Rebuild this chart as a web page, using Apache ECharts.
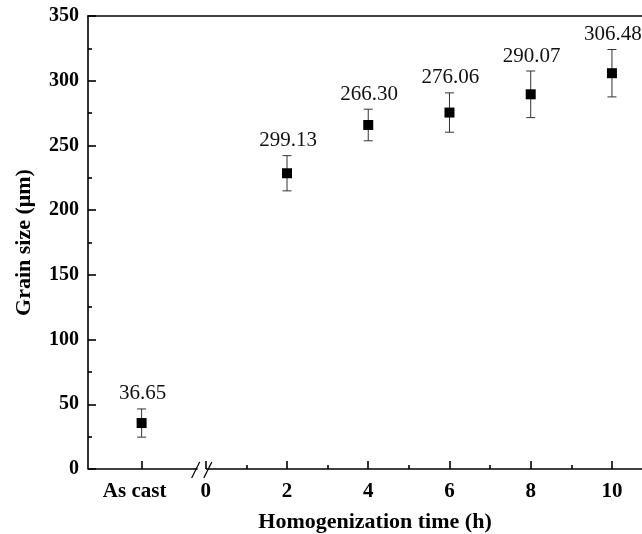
<!DOCTYPE html>
<html>
<head>
<meta charset="utf-8">
<script src="https://cdn.jsdelivr.net/npm/echarts@6/dist/echarts.min.js"></script>
<style>
html,body{margin:0;padding:0;background:#fff;}
#chart{width:642px;height:534px;}
</style>
</head>
<body>
<div id="chart"></div>
<script>
// ---- data ----
const sampleTimes = ['As cast', 2, 4, 6, 8, 10];
const grainSize = [35.5, 228.5, 265.8, 275.4, 289.5, 305.8];
const errorBars = [10.9, 13.6, 12.2, 15.2, 18.0, 18.3];
const labelTexts = ['36.65', '299.13', '266.30', '276.06', '290.07', '306.48'];
const xMajorTicks = [0, 2, 4, 6, 8, 10];
const xMinorTicks = [1, 3, 5, 7, 9];
const yTicks = [0, 50, 100, 150, 200, 250, 300, 350];

// axis placement of the "As cast" category and the axis break (axis units)
const AS_CAST_X = -1.58;
const X_MIN = -2.9, X_MAX = 10.74;
const BREAK_A = -0.25, BREAK_B = 0.05;

const FONT = "'Liberation Serif', 'Times New Roman', serif";
const toX = t => (t === 'As cast' ? AS_CAST_X : t);

const points = sampleTimes.map((t, i) => [toX(t), grainSize[i], errorBars[i], labelTexts[i]]);

const chart = echarts.init(document.getElementById('chart'));
const axisLineStyle = { color: '#000', width: 1.6 };
const tickFont = { color: '#000', fontFamily: FONT, fontWeight: 'bold', fontSize: 21 };

chart.setOption({
  animation: false,
  backgroundColor: '#fff',
  grid: { left: 88, top: 16, right: 0, bottom: 65, containLabel: false, outerBoundsMode: 'none' },
  xAxis: [
    {
      type: 'value', min: X_MIN, max: X_MAX, position: 'bottom',
      axisLine: { show: false, onZero: false },
      splitLine: { show: false },
      axisTick: { show: true, inside: true, length: 8, lineStyle: axisLineStyle,
                  customValues: [AS_CAST_X].concat(xMajorTicks) },
      axisLabel: {
        customValues: [AS_CAST_X].concat(xMajorTicks),
        formatter: v => (Math.abs(v - AS_CAST_X) < 1e-6 ? '{ac|As cast}' : '{n|' + Math.round(v) + '}'),
        rich: {
          ac: Object.assign({ padding: [0, 14, 0, 0] }, tickFont),
          n: Object.assign({}, tickFont)
        },
        color: '#000', fontFamily: FONT, fontWeight: 'bold', fontSize: 21, margin: 12
      },
      name: 'Homogenization time (h)', nameLocation: 'middle', nameGap: 42,
      nameTextStyle: { color: '#000', fontFamily: FONT, fontWeight: 'bold', fontSize: 22,
                       padding: [0, 0, 0, 20] }
    },
    {
      type: 'value', min: X_MIN, max: X_MAX, position: 'bottom',
      axisLine: { show: false, onZero: false }, splitLine: { show: false },
      axisTick: { show: true, inside: true, length: 4, lineStyle: axisLineStyle, customValues: xMinorTicks },
      axisLabel: { show: false }
    },
    {
      type: 'value', min: X_MIN, max: X_MAX, position: 'top',
      axisLine: { show: true, onZero: false, lineStyle: axisLineStyle },
      axisTick: { show: false }, axisLabel: { show: false }, splitLine: { show: false }
    }
  ],
  yAxis: {
    type: 'value', min: 0, max: 350, interval: 50, position: 'left',
    axisLine: { show: true, onZero: false, lineStyle: axisLineStyle },
    axisTick: { show: true, inside: true, length: 8, lineStyle: axisLineStyle },
    minorTick: { show: true, splitNumber: 2, length: 4, lineStyle: axisLineStyle },
    splitLine: { show: false },
    axisLabel: {
      customValues: yTicks,
      color: '#000', fontFamily: FONT, fontWeight: 'bold', fontSize: 20, margin: 9
    },
    name: 'Grain size (\u03bcm)', nameLocation: 'middle', nameGap: 53,
    nameTextStyle: { color: '#000', fontFamily: FONT, fontWeight: 'bold', fontSize: 22 }
  },
  series: [
    {
      // bottom axis line with break marks
      type: 'custom', xAxisIndex: 0, clip: false, silent: true,
      data: [[0]],
      renderItem: (params, api) => {
        const p0 = api.coord([X_MIN, 0]);
        const pa = api.coord([BREAK_A, 0]);
        const pb = api.coord([BREAK_B, 0]);
        const p1 = api.coord([X_MAX, 0]);
        const st = { stroke: '#000', lineWidth: 1.6 };
        const sl = { stroke: '#000', lineWidth: 1.2 };
        return {
          type: 'group',
          children: [
            { type: 'line', shape: { x1: p0[0], y1: p0[1], x2: pa[0] + 2, y2: pa[1] }, style: st },
            { type: 'line', shape: { x1: pb[0] - 2, y1: pb[1], x2: p1[0], y2: p1[1] }, style: st },
            { type: 'line', shape: { x1: pa[0] - 4, y1: pa[1] + 9, x2: pa[0] + 4, y2: pa[1] - 7 }, style: sl },
            { type: 'line', shape: { x1: pb[0] - 4, y1: pb[1] + 9, x2: pb[0] + 4, y2: pb[1] - 7 }, style: sl }
          ]
        };
      }
    },
    {
      // error bars and value labels
      type: 'custom', xAxisIndex: 0, clip: false, silent: true,
      data: points,
      renderItem: (params, api) => {
        const x = api.value(0), y = api.value(1), e = api.value(2);
        const top = api.coord([x, y + e]);
        const bot = api.coord([x, y - e]);
        const cap = 4.5;
        const st = { stroke: '#333', lineWidth: 1 };
        return {
          type: 'group',
          children: [
            { type: 'line', shape: { x1: top[0], y1: top[1], x2: bot[0], y2: bot[1] }, style: st },
            { type: 'line', shape: { x1: top[0] - cap, y1: top[1], x2: top[0] + cap, y2: top[1] }, style: st },
            { type: 'line', shape: { x1: bot[0] - cap, y1: bot[1], x2: bot[0] + cap, y2: bot[1] }, style: st },
            { type: 'text', x: top[0] + 1, y: top[1] - 15,
              style: { text: points[params.dataIndex][3], fill: '#111', font: '21px ' + FONT,
                       align: 'center', verticalAlign: 'middle' } }
          ]
        };
      }
    },
    {
      type: 'scatter', xAxisIndex: 0, symbol: 'rect', symbolSize: 10,
      itemStyle: { color: '#000', opacity: 1 },
      data: points.map(p => [p[0], p[1]]),
      z: 5
    }
  ]
});
</script>
</body>
</html>
